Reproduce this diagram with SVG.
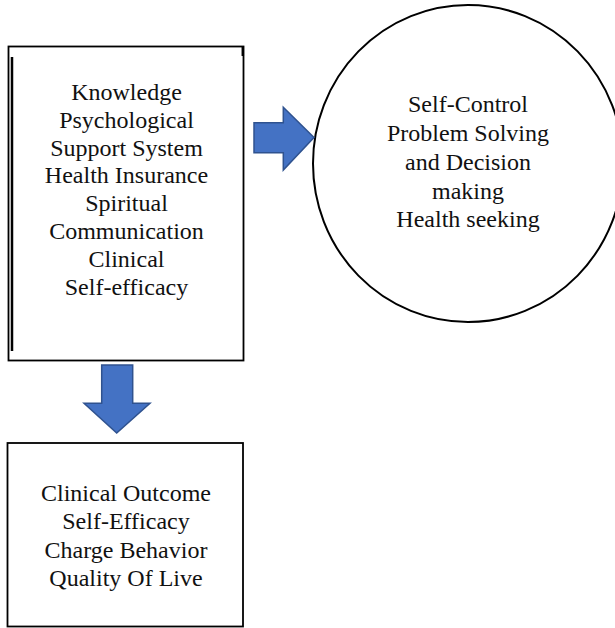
<svg xmlns="http://www.w3.org/2000/svg" width="615" height="628" viewBox="0 0 615 628">
<style>
.box{fill:#fff;stroke:#000;stroke-width:1.8}
.arrow{fill:#4472C4;stroke:#2F528F;stroke-width:1.5;stroke-linejoin:miter}
.t{font-family:"Liberation Serif","Times New Roman",serif;font-size:24px;fill:#111;text-anchor:middle}
</style>
<rect width="615" height="628" fill="#fff"/>
<g id="factors">
<rect class="box" x="8.5" y="46.5" width="235" height="314"/>
<line x1="12" y1="57" x2="12" y2="351" stroke="#000" stroke-width="2.5"/>
<line x1="242.8" y1="46" x2="242.8" y2="56" stroke="#000" stroke-width="2.5"/>
<text class="t" x="126.5" y="100">Knowledge</text>
<text class="t" x="126.5" y="127.8">Psychological</text>
<text class="t" x="126.5" y="155.6">Support System</text>
<text class="t" x="126.5" y="183.4">Health Insurance</text>
<text class="t" x="126.5" y="211.2">Spiritual</text>
<text class="t" x="126.5" y="239">Communication</text>
<text class="t" x="126.5" y="266.8">Clinical</text>
<text class="t" x="126.5" y="294.6">Self-efficacy</text>
</g>
<g id="self-management">
<ellipse cx="468" cy="163.5" rx="155" ry="158.5" fill="#fff" stroke="#000" stroke-width="2"/>
<text class="t" x="468" y="112">Self-Control</text>
<text class="t" x="468" y="141">Problem Solving</text>
<text class="t" x="468" y="170">and Decision</text>
<text class="t" x="468" y="198.5">making</text>
<text class="t" x="468" y="227">Health seeking</text>
</g>
<g id="outcomes">
<rect class="box" x="7.5" y="443" width="235.5" height="183.5"/>
<text class="t" x="126" y="501">Clinical Outcome</text>
<text class="t" x="126" y="529.3">Self-Efficacy</text>
<text class="t" x="126" y="557.6">Charge Behavior</text>
<text class="t" x="126" y="585.9">Quality Of Live</text>
</g>
<g id="connectors">
<polygon class="arrow" points="254,122.7 283.3,122.7 283.3,107.3 314,137.5 283.3,170 283.3,152.7 254,152.7"/>
<polygon class="arrow" points="101.7,365 132.7,365 132.7,403.3 150,403.3 116.7,433 84,403.3 101.7,403.3"/>
</g>
</svg>
